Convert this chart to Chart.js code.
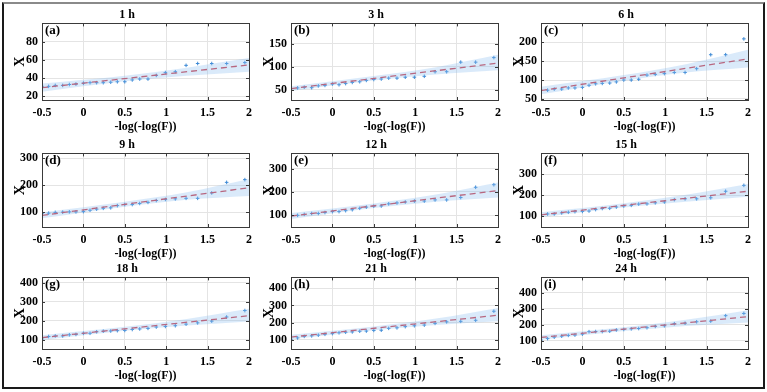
<!DOCTYPE html>
<html>
<head>
<meta charset="utf-8">
<script src="https://cdn.jsdelivr.net/npm/chart.js@4.4.0/dist/chart.umd.min.js"></script>
<style>
  body { margin: 0; background: #fff; }
  #fig { position: relative; width: 767px; height: 392px; overflow: hidden; background: #fff; }
  #frame { position: absolute; left: 2px; top: 2px; width: 759px; height: 383px;
           border: 2px solid #1a1a1a; border-top-color: #8a8a8a; }
  canvas { position: absolute; }
</style>
</head>
<body>
<div id="fig"><div id="frame"></div></div>
<script>
// panel titles and tags
var titles = ['1 h', '3 h', '6 h', '9 h', '12 h', '15 h', '18 h', '21 h', '24 h'];
var tags = ['(a)', '(b)', '(c)', '(d)', '(e)', '(f)', '(g)', '(h)', '(i)'];

// reduced variate of each observation (x axis)
var xObs = [-0.5, -0.42, -0.34, -0.25, -0.17, -0.09, 0, 0.08, 0.16, 0.24, 0.33, 0.41,
            0.5, 0.59, 0.68, 0.78, 0.88, 0.99, 1.11, 1.24, 1.38, 1.55, 1.73, 1.95];

// observed values X
var obs1h  = [31, 31, 32, 32, 33, 33.5, 34.5, 35, 35, 35, 35.5, 36, 36, 38, 39, 39, 43, 46, 47, 54, 56, 56, 56, 57];
var obs3h  = [52, 53.5, 55, 54, 58, 59, 62, 60.5, 63, 65.5, 67, 70, 72, 73, 75, 75, 77, 77, 79, 89, 89, 110, 110, 120];
var obs6h  = [73, 73, 76, 76, 79, 79, 80.5, 86, 90, 91, 92, 95, 100, 100, 102, 113, 115, 117, 120, 120, 130, 167, 167, 209];
var obs9h  = [95, 96, 99, 100, 101, 101, 102, 107, 111, 114, 116, 124, 128, 128, 132, 136, 143, 147, 149, 151, 151, 171, 210, 220];
var obs12h = [100, 100, 104, 108, 108, 112, 116, 116, 120, 124, 130, 135, 139, 140, 149, 153, 157, 161, 161, 166, 166, 176, 220, 231];
var obs15h = [106, 110, 110, 115, 118, 121, 122, 124, 131, 136, 137, 143, 148, 151, 157, 158, 163, 167, 178, 182, 182, 187, 218, 246];
var obs18h = [103, 116, 119, 119, 125, 127, 133, 133, 141, 144, 145, 147, 148, 153, 156, 159, 166, 169, 173, 181, 188, 197, 219, 253];
var obs21h = [102, 110, 119, 122, 126, 131, 135, 140, 143, 145, 149, 150, 154, 155, 166, 169, 176, 181, 185, 195, 204, 207, 213, 266];
var obs24h = [104, 113, 122, 128, 133, 135, 141, 156, 157, 157, 159, 167, 170, 174, 176, 181, 189, 193, 206, 209, 218, 222, 256, 270];
var obsAll = [obs1h, obs3h, obs6h, obs9h, obs12h, obs15h, obs18h, obs21h, obs24h];

// fitted line end points (dashed red)
var fitX = [-0.5, 2];
var fitStart = [29.5, 52, 72, 88, 97, 106, 110, 115, 120];
var fitEnd   = [54.5, 108, 156, 190, 206, 218, 226, 243, 250];

// confidence band
var bandX = [-0.5, 0.5, 1.25, 2];
var bandLo = [[25, 36.5, 42.5, 47], [47, 69.5, 83, 92], [62, 98, 120, 133], [77, 120, 146, 160], [84, 131, 158, 176],
              [94, 141, 168, 192], [97, 146, 174, 195], [102, 155, 186, 207], [106, 160, 192, 214]];
var bandHi = [[34, 42.5, 51.5, 62], [57, 79.5, 99, 126], [82, 113, 142, 180], [99, 138, 173, 222], [110, 151, 189, 240],
              [118, 161, 201, 252], [123, 167, 208, 262], [128, 177, 223, 285], [134, 184, 230, 290]];

// y axis limits and ticks
var yMin = [16, 27, 47, 45, 50, 48, 50, 45, 48];
var yMax = [100, 195, 250, 317, 365, 398, 428, 464, 495];
var yTicks = [[20, 40, 60, 80], [50, 100, 150], [50, 100, 150, 200], [100, 200, 300], [100, 200, 300],
              [100, 200, 300], [100, 200, 300, 400], [100, 200, 300, 400], [100, 200, 300, 400]];
var xTicks = [-0.5, 0, 0.5, 1, 1.5, 2];

// layout of the 3x3 grid (plot areas)
var colLeft = [42, 291, 541];
var rowTop = [23, 153, 277];
var rowH = [77, 74, 72];
var plotW = 210;

var serif = "'Liberation Serif', 'Times New Roman', serif";

function pts(xs, ys) {
  return xs.map(function (x, k) { return { x: x, y: ys[k] }; });
}

var boxPlugin = {
  id: 'box',
  afterDraw: function (chart) {
    var a = chart.chartArea, ctx = chart.ctx;
    var sx = chart.scales.x, sy = chart.scales.y;
    ctx.save();
    ctx.strokeStyle = '#3a3a3a';
    ctx.lineWidth = 1;
    ctx.strokeRect(Math.round(a.left) + 0.5, Math.round(a.top) + 0.5,
                   Math.round(a.right - a.left), Math.round(a.bottom - a.top));
    ctx.beginPath();
    sx.ticks.forEach(function (t) {
      var px = Math.round(sx.getPixelForValue(t.value)) + 0.5;
      ctx.moveTo(px, a.bottom); ctx.lineTo(px, a.bottom - 3);
      ctx.moveTo(px, a.top); ctx.lineTo(px, a.top + 3);
    });
    sy.ticks.forEach(function (t) {
      var py = Math.round(sy.getPixelForValue(t.value)) + 0.5;
      ctx.moveTo(a.left, py); ctx.lineTo(a.left + 3, py);
      ctx.moveTo(a.right, py); ctx.lineTo(a.right - 3, py);
    });
    ctx.stroke();
    ctx.fillStyle = '#000';
    ctx.font = 'bold 13px ' + serif;
    ctx.textBaseline = 'top';
    ctx.textAlign = 'left';
    ctx.fillText(chart.options.plugins.box.tag, a.left + 3, a.top + 1);
    ctx.restore();
  }
};

var fig = document.getElementById('fig');

for (var i = 0; i < 9; i++) {
  (function (i) {
    var r = Math.floor(i / 3), c = i % 3;
    var titleH = 21, axisW = 40, axisH = 34, padR = 6;
    var cv = document.createElement('canvas');
    cv.width = axisW + plotW + padR;
    cv.height = titleH + rowH[r] + axisH;
    cv.style.left = (colLeft[c] - axisW) + 'px';
    cv.style.top = (rowTop[r] - titleH) + 'px';
    fig.appendChild(cv);

    new Chart(cv, {
      type: 'line',
      data: {
        datasets: [
          { data: pts(bandX, bandLo[i]), borderWidth: 0, pointRadius: 0, fill: false,
            cubicInterpolationMode: 'monotone', borderColor: 'rgba(0,0,0,0)' },
          { data: pts(bandX, bandHi[i]), borderWidth: 0, pointRadius: 0, fill: '-1',
            cubicInterpolationMode: 'monotone', borderColor: 'rgba(0,0,0,0)',
            backgroundColor: 'rgba(140,190,240,0.32)' },
          { data: pts(fitX, [fitStart[i], fitEnd[i]]), borderColor: '#cc3f4c', borderWidth: 1.3,
            borderDash: [6, 4], pointRadius: 0, fill: false },
          { data: pts(xObs, obsAll[i]), showLine: false, pointStyle: 'cross', pointRadius: 1.8,
            borderColor: '#3d8ad6', borderWidth: 1, fill: false }
        ]
      },
      options: {
        responsive: false,
        animation: false,
        events: [],
        layout: { padding: { right: padR } },
        plugins: {
          legend: { display: false },
          tooltip: { enabled: false },
          title: { display: true, text: titles[i], color: '#000',
                   font: { family: serif, size: 12, weight: 'bold' }, padding: { top: 6, bottom: 1 } },
          box: { tag: tags[i] }
        },
        scales: {
          x: {
            type: 'linear', min: -0.5, max: 2,
            afterBuildTicks: function (s) { s.ticks = xTicks.map(function (v) { return { value: v }; }); },
            afterFit: function (s) { s.height = axisH; },
            ticks: { color: '#000', font: { family: serif, size: 12, weight: 'bold' }, padding: 6, maxRotation: 0,
                     callback: function (v) { return String(v); } },
            grid: { color: '#e4e4e4', drawTicks: false },
            border: { display: false },
            title: { display: true, text: '-log(-log(F))', color: '#000',
                     font: { family: serif, size: 12, weight: 'bold' }, padding: 0 }
          },
          y: {
            type: 'linear', min: yMin[i], max: yMax[i],
            afterBuildTicks: function (s) { s.ticks = yTicks[i].map(function (v) { return { value: v }; }); },
            afterFit: function (s) { s.width = axisW; },
            ticks: { color: '#000', font: { family: serif, size: 12, weight: 'bold' }, padding: 4 },
            grid: { color: '#e4e4e4', drawTicks: false },
            border: { display: false },
            title: { display: true, text: 'X', color: '#000',
                     font: { family: serif, size: 14, weight: 'bold' }, padding: { top: 10, bottom: 0 } }
          }
        }
      },
      plugins: [boxPlugin]
    });
  })(i);
}
</script>
</body>
</html>
